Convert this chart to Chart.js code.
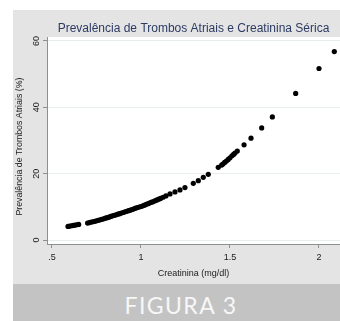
<!DOCTYPE html>
<html>
<head>
<meta charset="utf-8">
<script src="https://cdn.jsdelivr.net/npm/chart.js@4.4.1/dist/chart.umd.min.js"></script>
<style>
  html, body { margin: 0; padding: 0; background: #fff; overflow: hidden; }
  body { width: 340px; height: 321px; position: relative; }
  #panel { position: absolute; left: 13px; top: 10px; width: 327px; height: 274px; background: #e4e4e4; }
  #chart { position: absolute; left: 0; top: 0; }
  #band {
    position: absolute; left: 13px; top: 284px; width: 327px; height: 37px;
    background: #c3c3c3; color: #f7f7f7;
    font-family: Lato, "Open Sans", sans-serif; font-size: 23px; letter-spacing: 1.4px;
    text-align: center; line-height: 37px; padding: 3px 0 0 9px; box-sizing: border-box;
  }
</style>
</head>
<body>
<div id="panel"><canvas id="chart" width="327" height="273"></canvas></div>
<div id="band">FIGURA 3</div>
<script>
// Creatinina (mg/dl) e prevalência (%)
const creatinina = [
  0.59, 0.60, 0.61, 0.62, 0.63, 0.64, 0.65,
  0.70, 0.71, 0.72, 0.73, 0.74, 0.75, 0.76, 0.77, 0.78, 0.79,
  0.80, 0.81, 0.82, 0.83, 0.84, 0.85, 0.86, 0.87, 0.88, 0.89,
  0.90, 0.91, 0.92, 0.93, 0.94, 0.95, 0.96, 0.97, 0.98, 0.99,
  1.00, 1.01, 1.02, 1.03, 1.04, 1.05, 1.06, 1.07, 1.08, 1.09,
  1.10, 1.11, 1.124, 1.14, 1.163, 1.191, 1.219, 1.247, 1.294, 1.322,
  1.35, 1.378, 1.434, 1.453, 1.46, 1.47, 1.48, 1.49, 1.50, 1.511,
  1.52, 1.528, 1.541, 1.579, 1.618, 1.678, 1.738, 1.869, 2.0, 2.086
];
const prevalencia = [
  4.1, 4.2, 4.3, 4.4, 4.5, 4.6, 4.7,
  5.1, 5.25, 5.4, 5.5, 5.65, 5.8, 5.95, 6.1, 6.25, 6.4,
  6.6, 6.75, 6.9, 7.1, 7.3, 7.45, 7.6, 7.8, 7.95, 8.15,
  8.3, 8.5, 8.65, 8.85, 9.0, 9.2, 9.4, 9.6, 9.8, 9.95,
  10.1, 10.3, 10.5, 10.75, 10.95, 11.2, 11.4, 11.6, 11.85, 12.1,
  12.3, 12.55, 12.9, 13.3, 13.9, 14.5, 15.1, 15.8, 17.1, 17.9,
  18.9, 19.8, 21.9, 22.6, 22.9, 23.4, 23.8, 24.3, 24.8, 25.4,
  25.8, 26.2, 26.8, 28.7, 30.7, 33.8, 37.1, 44.2, 51.7, 56.8
];
const xTicks = [0.5, 1, 1.5, 2];
const xTickLabels = [".5", "1", "1.5", "2"];
const yTicks = [0, 20, 40, 60];
const yTickLabels = ["0", "20", "40", "60"];

const ctx = document.getElementById("chart").getContext("2d");
new Chart(ctx, {
  type: "scatter",
  data: {
    datasets: [{
      data: creatinina.map((x, i) => ({ x: x, y: prevalencia[i] })),
      backgroundColor: "#000",
      borderWidth: 0,
      pointRadius: 2.6
    }]
  },
  options: {
    responsive: false,
    animation: false,
    layout: { padding: 0, autoPadding: false },
    plugins: {
      legend: { display: false },
      tooltip: { enabled: false },
      title: {
        display: true,
        fullSize: false,
        text: "Prevalência de Trombos Atriais e Creatinina Sérica",
        color: "#2d3b63",
        font: { family: "Liberation Sans", size: 12, weight: "normal" },
        padding: { top: 11, bottom: 1.6 }
      }
    },
    scales: {
      x: {
        type: "linear",
        min: 0.472,
        max: 2.118,
        afterBuildTicks: scale => { scale.ticks = xTicks.map(v => ({ value: v })); },
        afterFit: scale => { scale.height = 39; },
        ticks: {
          callback: (v, i) => xTickLabels[i],
          color: "#1a1a1a",
          font: { family: "Liberation Sans", size: 9 },
          padding: 4.5,
          maxRotation: 0
        },
        grid: { display: true, drawOnChartArea: false, tickLength: 4, tickColor: "#8f8f8f" },
        border: { display: true, color: "#8f8f8f" },
        title: {
          display: true,
          text: "Creatinina (mg/dl)",
          color: "#1a1a1a",
          font: { family: "Liberation Sans", size: 9 },
          padding: { top: 0, bottom: 3.6 }
        }
      },
      y: {
        type: "linear",
        min: -1.2,
        max: 61.2,
        afterBuildTicks: scale => { scale.ticks = yTicks.map(v => ({ value: v })); },
        afterFit: scale => { scale.width = 34; },
        ticks: {
          callback: (v, i) => yTickLabels[i],
          color: "#1a1a1a",
          font: { family: "Liberation Sans", size: 9 },
          padding: 1,
          minRotation: 90,
          maxRotation: 90,
          crossAlign: "center"
        },
        grid: { color: "#e8eef0", tickLength: 4, tickColor: "#8f8f8f" },
        border: { display: true, color: "#8f8f8f" },
        title: {
          display: true,
          // espaços finais deslocam o título um pouco para baixo, como no original
          text: "Prevalência de Trombos Atriais (%)\u00a0\u00a0\u00a0\u00a0\u00a0",
          color: "#1a1a1a",
          font: { family: "Liberation Sans", size: 8.8 },
          padding: { top: 1, bottom: 0 }
        }
      }
    }
  },
  plugins: [{
    id: "plotBg",
    beforeDraw: chart => {
      const a = chart.chartArea;
      chart.ctx.save();
      chart.ctx.fillStyle = "#fff";
      chart.ctx.fillRect(a.left, a.top, a.right - a.left, a.bottom - a.top);
      chart.ctx.restore();
    }
  }]
});
</script>
</body>
</html>
